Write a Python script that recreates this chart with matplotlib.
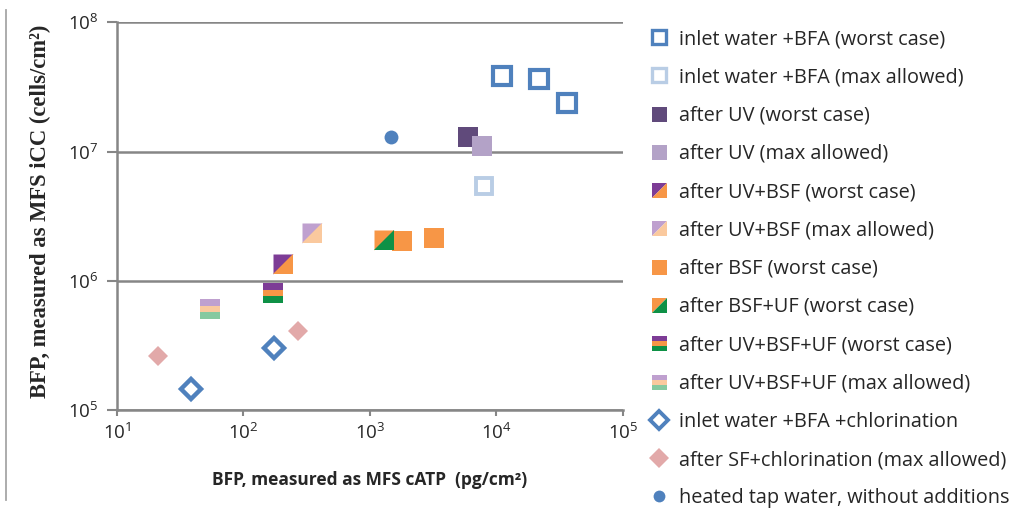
import matplotlib.pyplot as plt
from matplotlib.lines import Line2D
from matplotlib.path import Path
from matplotlib.legend_handler import HandlerTuple

plt.rcParams["font.family"] = "Open Sans"
plt.rcParams["mathtext.default"] = "regular"

# MFS cATP (pg/cm2) vs MFS iCC (cells/cm2), per treatment stage
inlet_worst_x = [11000, 21700, 36300]
inlet_worst_y = [3.84e7, 3.61e7, 2.38e7]
inlet_max_x = [7960]
inlet_max_y = [5.4e6]
uv_worst_x = [5920]
uv_worst_y = [1.30e7]
uv_max_x = [7680]
uv_max_y = [1.10e7]
uvbsf_worst_x = [206]
uvbsf_worst_y = [1.34e6]
uvbsf_max_x = [348]
uvbsf_max_y = [2.35e6]
bsf_worst_x = [1780, 3200]
bsf_worst_y = [2.02e6, 2.14e6]
bsfuf_worst_x = [1300]
bsfuf_worst_y = [2.08e6]
uvbsfuf_worst_x = [171]
uvbsfuf_worst_y = [8.0e5]
uvbsfuf_max_x = [55]
uvbsfuf_max_y = [6.0e5]
chlor_x = [38.5, 174]
chlor_y = [1.46e5, 3.0e5]
sfchlor_x = [21.2, 271]
sfchlor_y = [2.62e5, 4.07e5]
tap_x = [1480]
tap_y = [1.30e7]

labels = [
    "inlet water +BFA (worst case)",
    "inlet water +BFA (max allowed)",
    "after UV (worst case)",
    "after UV (max allowed)",
    "after UV+BSF (worst case)",
    "after UV+BSF (max allowed)",
    "after BSF (worst case)",
    "after BSF+UF (worst case)",
    "after UV+BSF+UF (worst case)",
    "after UV+BSF+UF (max allowed)",
    "inlet water +BFA +chlorination",
    "after SF+chlorination (max allowed)",
    "heated tap water, without additions",
]

BLUE = "#4F81BD"
LIGHT_BLUE = "#B9CDE5"
DARK_PURPLE = "#604A7B"
LAVENDER = "#B3A2C7"
PURPLE = "#7D3C96"
ORANGE = "#F79646"
LIGHT_LILAC = "#BFA0CF"
PEACH = "#FAC99E"
GREEN = "#0E9146"
LIGHT_GREEN = "#86C9A0"
PINK = "#E2A9A9"

# split / striped square markers
UPPER_LEFT = Path([(-1, -1), (1, 1), (-1, 1), (-1, -1)], closed=True)
LOWER_RIGHT = Path([(-1, -1), (1, -1), (1, 1), (-1, -1)], closed=True)


def band(lo, hi):
    return Path([(-1, lo), (1, lo), (1, hi), (-1, hi), (-1, lo)], closed=True)


TOP, MID, BOT = band(1 / 3, 1), band(-1 / 3, 1 / 3), band(-1, -1 / 3)

GREY = "#868686"
TEXT = "#262626"

fig = plt.figure(figsize=(10.16, 5.14), dpi=100)
ax = fig.add_axes([0.115, 0.2023, 0.498, 0.7543])


def composite(x, y, parts, ms):
    for marker, color in parts:
        ax.plot(x, y, ls="none", marker=marker, color=color, ms=ms, mew=0, zorder=3)


def proxy(parts, ms):
    return tuple(Line2D([], [], ls="none", marker=m, color=c, ms=ms, mew=0) for m, c in parts)


SQ = 14.4
ax.plot(inlet_worst_x, inlet_worst_y, ls="none", marker="s", ms=13, mfc="white", mec=BLUE, mew=3.0, zorder=3)
ax.plot(inlet_max_x, inlet_max_y, ls="none", marker="s", ms=11, mfc="white", mec=LIGHT_BLUE, mew=2.8, zorder=3)
ax.plot(uv_worst_x, uv_worst_y, ls="none", marker="s", ms=SQ, color=DARK_PURPLE, mew=0, zorder=3)
ax.plot(uv_max_x, uv_max_y, ls="none", marker="s", ms=SQ, color=LAVENDER, mew=0, zorder=3)
uvbsf_w = [(UPPER_LEFT, PURPLE), (LOWER_RIGHT, ORANGE)]
uvbsf_m = [(UPPER_LEFT, LIGHT_LILAC), (LOWER_RIGHT, PEACH)]
bsfuf_w = [(UPPER_LEFT, ORANGE), (LOWER_RIGHT, GREEN)]
stripes_w = [(TOP, PURPLE), (MID, ORANGE), (BOT, GREEN)]
stripes_m = [(TOP, LIGHT_LILAC), (MID, PEACH), (BOT, LIGHT_GREEN)]
composite(uvbsf_worst_x, uvbsf_worst_y, uvbsf_w, SQ)
composite(uvbsf_max_x, uvbsf_max_y, uvbsf_m, SQ)
ax.plot(bsf_worst_x, bsf_worst_y, ls="none", marker="s", ms=SQ, color=ORANGE, mew=0, zorder=3)
composite(bsfuf_worst_x, bsfuf_worst_y, bsfuf_w, SQ)
composite(uvbsfuf_worst_x, uvbsfuf_worst_y, stripes_w, SQ)
composite(uvbsfuf_max_x, uvbsfuf_max_y, stripes_m, SQ)
ax.plot(chlor_x, chlor_y, ls="none", marker="D", ms=10.5, mfc="white", mec=BLUE, mew=3.2, zorder=3)
ax.plot(sfchlor_x, sfchlor_y, ls="none", marker="D", ms=10.5, color=PINK, mew=0, zorder=3)
ax.plot(tap_x, tap_y, ls="none", marker="o", ms=10, color=BLUE, mew=0, zorder=3)

ax.set_xscale("log")
ax.set_yscale("log")
ax.set_xlim(10, 1e5)
ax.set_ylim(1e5, 1e8)
ax.set_xticks([1e1, 1e2, 1e3, 1e4, 1e5])
ax.set_yticks([1e5, 1e6, 1e7, 1e8])
ax.set_xticklabels([r"$10^{%d}$" % e for e in range(1, 6)])
ax.set_yticklabels([r"$10^{%d}$" % e for e in range(5, 9)])
ax.minorticks_off()
ax.tick_params(axis="both", colors=GREY, labelcolor=TEXT, labelsize=13.5, width=1.5)
ax.tick_params(axis="y", length=7, pad=6)
ax.tick_params(axis="x", length=4.5, pad=5)
for side in ("top", "right"):
    ax.spines[side].set_visible(False)
for side in ("left", "bottom"):
    ax.spines[side].set_color(GREY)
    ax.spines[side].set_linewidth(1.8)
ax.yaxis.grid(True, color=GREY, lw=1.8)
ax.set_axisbelow(True)

ax.set_xlabel("BFP, measured as MFS cATP  (pg/cm²)", fontsize=12.5, fontweight="bold",
              color=TEXT, labelpad=20)
fig.text(0.040, 0.588, "BFP, measured as MFS iCC (cells/cm²)", rotation=90,
         ha="center", va="center", fontsize=16.3, fontweight="bold",
         family="Liberation Serif", color=TEXT)

# thin frame edge on the far left
fig.add_artist(Line2D([0.006, 0.006], [0.027, 0.98], color="#A6A6A6", lw=1.3))

LS = 10.8
handles = [
    Line2D([], [], ls="none", marker="s", ms=9.5, mfc="white", mec=BLUE, mew=2.4),
    Line2D([], [], ls="none", marker="s", ms=9.5, mfc="white", mec=LIGHT_BLUE, mew=2.4),
    Line2D([], [], ls="none", marker="s", ms=LS, color=DARK_PURPLE, mew=0),
    Line2D([], [], ls="none", marker="s", ms=LS, color=LAVENDER, mew=0),
    proxy(uvbsf_w, LS),
    proxy(uvbsf_m, LS),
    Line2D([], [], ls="none", marker="s", ms=LS, color=ORANGE, mew=0),
    proxy(bsfuf_w, LS),
    proxy(stripes_w, LS),
    proxy(stripes_m, LS),
    Line2D([], [], ls="none", marker="D", ms=9.5, mfc="white", mec=BLUE, mew=2.8),
    Line2D([], [], ls="none", marker="D", ms=10, color=PINK, mew=0),
    Line2D([], [], ls="none", marker="o", ms=8.5, color=BLUE, mew=0),
]
fig.legend(handles, labels, loc="upper left", bbox_to_anchor=(0.630, 0.959),
           frameon=False, fontsize=14.3, labelspacing=0.92, handlelength=1.1,
           handletextpad=0.48, borderaxespad=0, labelcolor=TEXT,
           handler_map={tuple: HandlerTuple(ndivide=1)})

fig.savefig("out.png", dpi=100)
